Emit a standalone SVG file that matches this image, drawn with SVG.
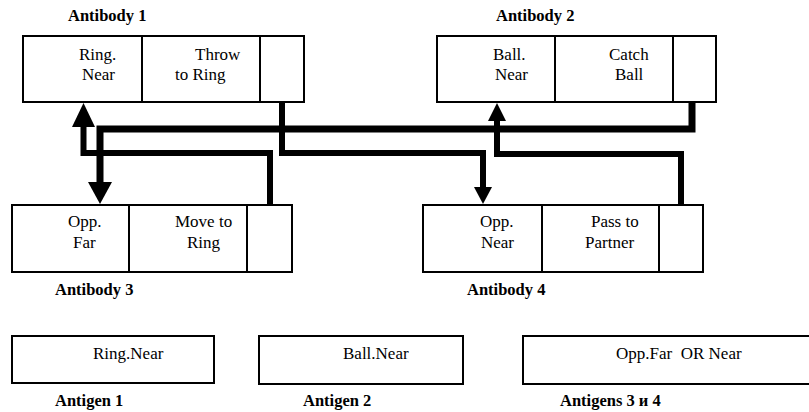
<svg xmlns="http://www.w3.org/2000/svg" width="809" height="412" viewBox="0 0 809 412">
<style>
.box{fill:#fff;stroke:#000;stroke-width:2}
.div{stroke:#000;stroke-width:2}
.t{font-size:17px;fill:#000}
.tb{font-size:16.5px;font-weight:bold;fill:#000}
.wire{fill:none;stroke:#000;stroke-width:6;stroke-linejoin:miter;stroke-linecap:butt}
.head{fill:#000}
</style>
<rect width="809" height="412" fill="#fff"/>
<g font-family="Liberation Serif, Times New Roman, Times, serif">
<g id="antibody1">
<rect class="box" x="23" y="36" width="281" height="66"/>
<line class="div" x1="142" y1="36" x2="142" y2="102"/>
<line class="div" x1="260" y1="36" x2="260" y2="102"/>
<text class="tb" x="68" y="21">Antibody 1</text>
<text class="t" x="79" y="60">Ring.</text>
<text class="t" x="82" y="80">Near</text>
<text class="t" x="195" y="60">Throw</text>
<text class="t" x="175" y="80">to Ring</text>
</g>
<g id="antibody2">
<rect class="box" x="437" y="36" width="279" height="66"/>
<line class="div" x1="555" y1="36" x2="555" y2="102"/>
<line class="div" x1="673" y1="36" x2="673" y2="102"/>
<text class="tb" x="496" y="21">Antibody 2</text>
<text class="t" x="493" y="60">Ball.</text>
<text class="t" x="495" y="80">Near</text>
<text class="t" x="609" y="60">Catch</text>
<text class="t" x="615" y="80">Ball</text>
</g>
<g id="antibody3">
<rect class="box" x="12" y="205" width="280" height="67"/>
<line class="div" x1="129" y1="205" x2="129" y2="272"/>
<line class="div" x1="247" y1="205" x2="247" y2="272"/>
<text class="t" x="68" y="227">Opp.</text>
<text class="t" x="73" y="248">Far</text>
<text class="t" x="175" y="227">Move to</text>
<text class="t" x="187" y="248">Ring</text>
<text class="tb" x="55" y="295">Antibody 3</text>
</g>
<g id="antibody4">
<rect class="box" x="423" y="205" width="280" height="67"/>
<line class="div" x1="542" y1="205" x2="542" y2="272"/>
<line class="div" x1="659" y1="205" x2="659" y2="272"/>
<text class="t" x="480" y="227">Opp.</text>
<text class="t" x="481" y="248">Near</text>
<text class="t" x="591" y="227">Pass to</text>
<text class="t" x="585" y="248">Partner</text>
<text class="tb" x="467" y="295">Antibody 4</text>
</g>
<g id="antigen1">
<rect class="box" x="12" y="336" width="202" height="47"/>
<text class="t" x="93" y="359">Ring.Near</text>
<text class="tb" x="55" y="406">Antigen 1</text>
</g>
<g id="antigen2">
<rect class="box" x="259" y="336" width="204" height="48"/>
<text class="t" x="343" y="359">Ball.Near</text>
<text class="tb" x="303" y="406">Antigen 2</text>
</g>
<g id="antigen34">
<rect class="box" x="523" y="336" width="290" height="48"/>
<text class="t" x="616" y="359" xml:space="preserve">Opp.Far  OR Near</text>
<text class="tb" x="560" y="406">Antigens 3 и 4</text>
</g>
</g>
<g id="connectors">
<path class="wire" d="M282,102 V153 H483 V188"/>
<polygon class="head" points="474,187 492,187 483,204"/>
<path class="wire" style="stroke-width:7" d="M692,102 V129 H100 V183"/>
<polygon class="head" points="88,182 112,182 100,204"/>
<path class="wire" d="M270,205 V153 H83.5 V126"/>
<polygon class="head" points="72,127 95,127 83.5,103"/>
<path class="wire" d="M681,205 V154 H497 V120"/>
<polygon class="head" points="488,121 506,121 497,103"/>
</g>
</svg>
